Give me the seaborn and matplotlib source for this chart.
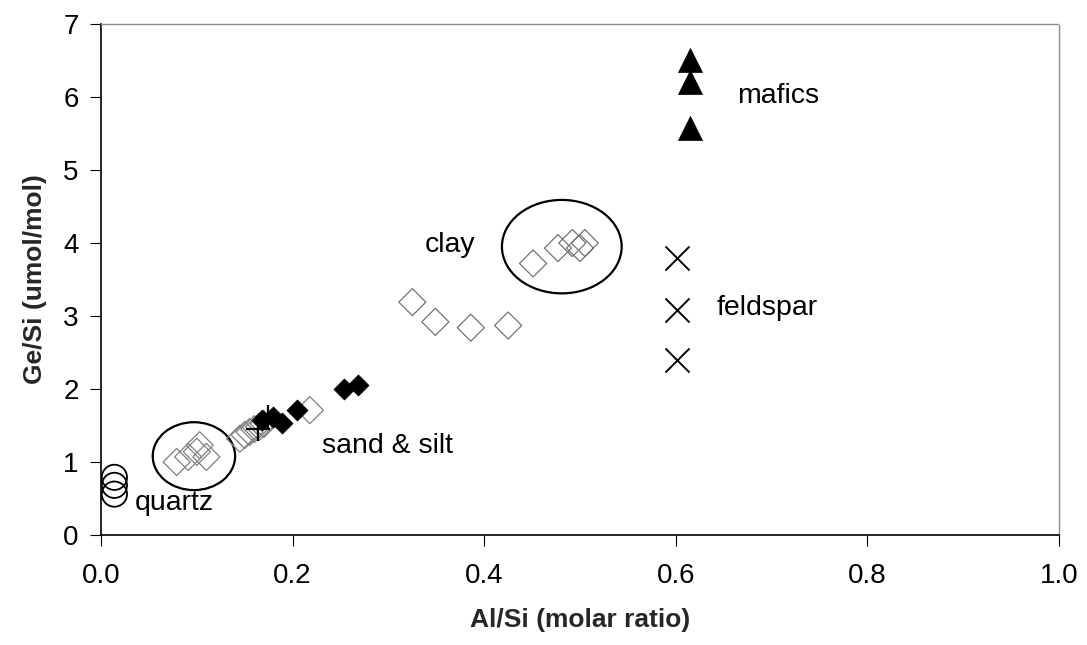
import matplotlib
matplotlib.use("Agg")
import matplotlib.pyplot as plt
from matplotlib.patches import Ellipse
import seaborn as sns
import pandas as pd

# Al/Si (molar ratio) vs Ge/Si (umol/mol) for mineral and soil fractions
quartz_alsi = [0.014, 0.014, 0.014]
quartz_gesi = [0.79, 0.68, 0.56]

sand_alsi = [0.079, 0.091, 0.100, 0.110, 0.103, 0.145, 0.150, 0.155, 0.160, 0.165, 0.170, 0.218]
sand_gesi = [1.00, 1.07, 1.14, 1.07, 1.23, 1.32, 1.37, 1.41, 1.45, 1.48, 1.52, 1.71]

soil_alsi = [0.168, 0.180, 0.189, 0.205, 0.254, 0.268]
soil_gesi = [1.57, 1.62, 1.54, 1.71, 2.00, 2.05]

plus_alsi = [0.164, 0.174]
plus_gesi = [1.45, 1.62]

clay_alsi = [0.325, 0.349, 0.386, 0.425, 0.451, 0.477, 0.492, 0.500, 0.505]
clay_gesi = [3.19, 2.92, 2.84, 2.87, 3.72, 3.93, 4.00, 3.93, 4.00]

feldspar_alsi = [0.601, 0.601, 0.601]
feldspar_gesi = [3.79, 3.08, 2.40]

mafic_alsi = [0.615, 0.615, 0.615]
mafic_gesi = [6.51, 6.21, 5.58]

x_ticks = [0.0, 0.2, 0.4, 0.6, 0.8, 1.0]
y_ticks = [0, 1, 2, 3, 4, 5, 6, 7]

sns.set_style("white")
plt.rcParams["font.family"] = ["Liberation Sans", "DejaVu Sans"]

fig = plt.figure(figsize=(10.87, 6.45), dpi=100)
ax = fig.add_axes([101 / 1087, 1 - 535 / 645, (1059 - 101) / 1087, (535 - 24) / 645])

def frame(x, y):
    return pd.DataFrame({"x": x, "y": y})

sns.scatterplot(data=frame(quartz_alsi, quartz_gesi), x="x", y="y", ax=ax,
                marker="o", s=330, fc="none", ec="black", linewidth=1.3, zorder=3)
sns.scatterplot(data=frame(sand_alsi, sand_gesi), x="x", y="y", ax=ax,
                marker="D", s=190, fc="none", ec="0.5", linewidth=0.9, zorder=3)
sns.scatterplot(data=frame(clay_alsi, clay_gesi), x="x", y="y", ax=ax,
                marker="D", s=190, fc="none", ec="0.45", linewidth=0.9, zorder=3)
sns.scatterplot(data=frame(soil_alsi, soil_gesi), x="x", y="y", ax=ax,
                marker="D", s=115, color="black", ec="black", linewidth=0.5, zorder=4)
sns.scatterplot(data=frame(plus_alsi, plus_gesi), x="x", y="y", ax=ax,
                marker="+", s=320, color="black", linewidth=1.6, zorder=5)
sns.scatterplot(data=frame(feldspar_alsi, feldspar_gesi), x="x", y="y", ax=ax,
                marker="x", s=300, color="black", linewidth=1.4, zorder=3)
sns.scatterplot(data=frame(mafic_alsi, mafic_gesi), x="x", y="y", ax=ax,
                marker="^", s=300, color="black", ec="black", linewidth=0.5, zorder=3)

# group outlines
ax.add_patch(Ellipse((0.097, 1.08), 0.086, 0.93, fill=False, ec="black", lw=1.6, zorder=2))
ax.add_patch(Ellipse((0.481, 3.95), 0.125, 1.28, fill=False, ec="black", lw=1.6, zorder=2))

label_kw = dict(fontsize=20.5, color="black", va="center", ha="left")
ax.text(0.664, 6.01, "mafics", **label_kw)
ax.text(0.643, 3.11, "feldspar", **label_kw)
ax.text(0.338, 3.97, "clay", **label_kw)
ax.text(0.231, 1.22, "sand & silt", **label_kw)
ax.text(0.035, 0.44, "quartz", **label_kw)

ax.set_xlim(0, 1.0)
ax.set_ylim(0, 7)
ax.set_xticks(x_ticks)
ax.set_xticklabels([f"{v:.1f}" for v in x_ticks])
ax.set_yticks(y_ticks)
ax.set_yticklabels([str(v) for v in y_ticks])
ax.tick_params(axis="both", labelsize=20, direction="out", length=8, width=0.8,
               colors="black", bottom=True, left=True)
ax.tick_params(axis="x", pad=12)
ax.tick_params(axis="y", pad=8)
ax.set_xlabel("Al/Si (molar ratio)", fontsize=19, fontweight="bold", labelpad=14)
ax.set_ylabel("Ge/Si (umol/mol)", fontsize=19, fontweight="bold", labelpad=12)

for side in ("left", "bottom"):
    ax.spines[side].set_color("black")
    ax.spines[side].set_linewidth(1.2)
for side in ("top", "right"):
    ax.spines[side].set_color("0.55")
    ax.spines[side].set_linewidth(1.0)
    ax.spines[side].set_linestyle((0, (1, 1)))

ax.grid(False)
fig.savefig("out.png", dpi=100)
